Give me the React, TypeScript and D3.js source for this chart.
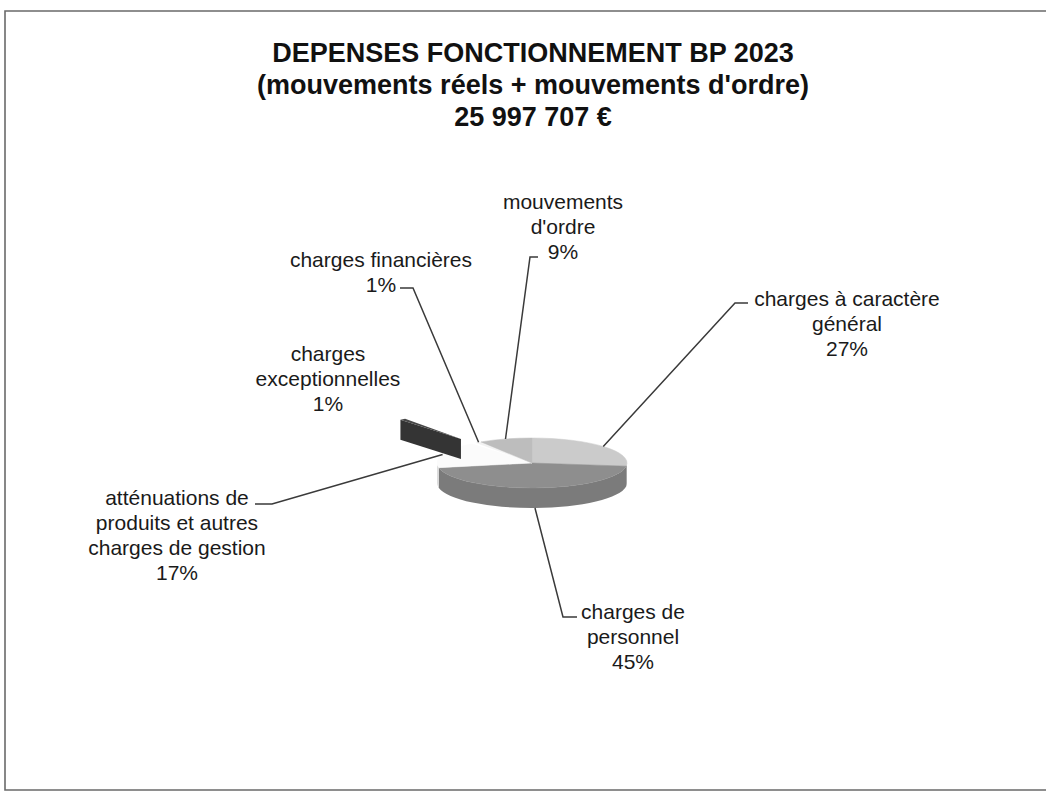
import React from "react";
import * as d3 from "d3";

// Budget lines of the operating expenditure and their shares (%)
const categories = [
  "charges à caractère général",
  "charges de personnel",
  "atténuations de produits et autres charges de gestion",
  "charges exceptionnelles",
  "charges financières",
  "mouvements d'ordre",
];
const shares = [27, 45, 17, 1, 1, 9];
const labelLines = [
  ["charges à caractère", "général"],
  ["charges de", "personnel"],
  ["atténuations de", "produits et autres", "charges de gestion"],
  ["charges", "exceptionnelles"],
  ["charges financières"],
  ["mouvements", "d'ordre"],
];
const titleLines = [
  "DEPENSES FONCTIONNEMENT BP 2023",
  "(mouvements réels + mouvements d'ordre)",
  "25 997 707 €",
];

// Styling and layout
const W = 1046;
const H = 794;
const topFill = ["#cbcbcb", "#8e8e8e", "#fbfbfb", "#474747", "#f2f2f2", "#bdbdbd"];
const sideFill = ["#9a9a9a", "#7b7b7b", "#dcdcdc", "#343434", "#d8d8d8", "#9c9c9c"];
const explode = [0, 0, 0, 1.22, 0, 0];
// label centre x, first baseline y, leader tick [outer x, inner x, y] or null
const labelLayout: { x: number; y: number; tick: [number, number, number] | null }[] = [
  { x: 847, y: 306, tick: [748, 735, 303] },
  { x: 633, y: 619, tick: [577, 563, 617] },
  { x: 177, y: 505, tick: [255, 272, 504] },
  { x: 328, y: 361, tick: null },
  { x: 381, y: 267, tick: [400, 413, 288] },
  { x: 563, y: 209, tick: [538, 530, 257] },
];
const LINE_H = 25;

const cx = 532;
const cy = 463;
const rx = 95;
const ry = 25;
const depth = 20;

type P = [number, number];

const pt = (a: number, o: P = [0, 0], r = 1): P => [
  cx + o[0] + rx * r * Math.sin(a),
  cy + o[1] - ry * r * Math.cos(a),
];

function topPath(a0: number, a1: number, o: P): string {
  const p = d3.path();
  const s = pt(a0, o);
  const e = pt(a1, o);
  p.moveTo(cx + o[0], cy + o[1]);
  p.lineTo(s[0], s[1]);
  const large = a1 - a0 > Math.PI ? 1 : 0;
  return p.toString() + `A${rx},${ry} 0 ${large} 1 ${e[0]},${e[1]}Z`;
}

function sidePath(a0: number, a1: number, o: P): string | null {
  const s0 = Math.max(a0, Math.PI / 2);
  const s1 = Math.min(a1, (3 * Math.PI) / 2);
  if (s1 <= s0) return null;
  const a = pt(s0, o);
  const b = pt(s1, o);
  const large = s1 - s0 > Math.PI ? 1 : 0;
  return (
    `M${a[0]},${a[1]}A${rx},${ry} 0 ${large} 1 ${b[0]},${b[1]}` +
    `L${b[0]},${b[1] + depth}A${rx},${ry} 0 ${large} 0 ${a[0]},${a[1] + depth}Z`
  );
}

function radialFace(a: number, o: P): string {
  const c: P = [cx + o[0], cy + o[1]];
  const r = pt(a, o);
  return `M${c[0]},${c[1]}L${r[0]},${r[1]}L${r[0]},${r[1] + depth}L${c[0]},${c[1] + depth}Z`;
}

export default function App() {
  const arcs = d3
    .pie<number>()
    .sort(null)
    .startAngle(0)
    .endAngle(2 * Math.PI)(shares);

  const slices = arcs.map((a, i) => {
    const mid = (a.startAngle + a.endAngle) / 2;
    const k = explode[i];
    const off: P = [rx * k * Math.sin(mid), -ry * k * Math.cos(mid)];
    return { ...a, i, mid, off };
  });

  const exploded = slices.filter((s) => explode[s.i] > 0);
  const flat = slices.filter((s) => explode[s.i] === 0);

  const font = "'Liberation Sans', Arial, sans-serif";

  return (
    <svg
      width={W}
      height={H}
      style={{ position: "absolute", left: 0, top: 0, background: "#fff" }}
    >
      {/* frame */}
      <path d={`M${W},11 L5,11 L5,790 L${W},790`} fill="none" stroke="#6a6a6a" strokeWidth={1.6} />

      {/* title */}
      {titleLines.map((t, i) => (
        <text
          key={t}
          x={533}
          y={62 + i * 32}
          textAnchor="middle"
          fontFamily={font}
          fontWeight="bold"
          fontSize={27}
          fill="#111"
        >
          {t}
        </text>
      ))}

      {/* outer walls */}
      {flat.map((s) => {
        const d = sidePath(s.startAngle, s.endAngle, s.off);
        return d ? <path key={`side${s.i}`} d={d} fill={sideFill[s.i]} /> : null;
      })}

      {/* top faces */}
      {flat.map((s) => (
        <path
          key={`top${s.i}`}
          d={topPath(s.startAngle, s.endAngle, s.off)}
          fill={topFill[s.i]}
          stroke={topFill[s.i]}
          strokeWidth={0.5}
        />
      ))}

      {/* detached slices */}
      {exploded.map((s) => (
        <g key={`ex${s.i}`}>
          <path d={radialFace(s.startAngle, s.off)} fill={sideFill[s.i]} />
          <path d={topPath(s.startAngle, s.endAngle, s.off)} fill={topFill[s.i]} />
        </g>
      ))}

      {/* leader lines */}
      {slices.map((s) => {
        const lay = labelLayout[s.i];
        if (!lay.tick) return null;
        const front = Math.cos(s.mid) < 0;
        const end = pt(s.mid, s.off);
        const ey = front ? end[1] + depth : end[1];
        const [x0, x1, y] = lay.tick;
        return (
          <polyline
            key={`lead${s.i}`}
            points={`${x0},${y} ${x1},${y} ${end[0]},${ey}`}
            fill="none"
            stroke="#3a3a3a"
            strokeWidth={1.5}
          />
        );
      })}

      {/* data labels */}
      {slices.map((s) => {
        const lay = labelLayout[s.i];
        const lines = [...labelLines[s.i], `${shares[s.i]}%`];
        return (
          <text
            key={`lab${s.i}`}
            textAnchor="middle"
            fontFamily={font}
            fontSize={21}
            fill="#1a1a1a"
            aria-label={categories[s.i]}
          >
            {lines.map((l, j) => (
              <tspan key={j} x={lay.x} y={lay.y + j * LINE_H}>
                {l}
              </tspan>
            ))}
          </text>
        );
      })}
    </svg>
  );
}
